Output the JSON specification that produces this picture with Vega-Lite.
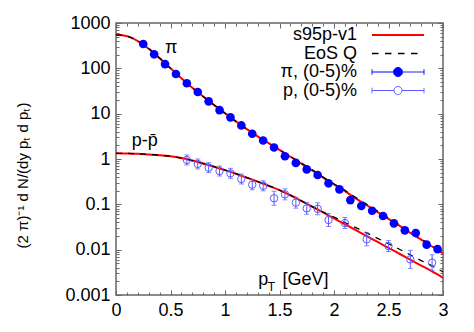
{
  "$schema": "https://vega.github.io/schema/vega-lite/v6.json",
  "width": 327,
  "height": 272,
  "autosize": "none",
  "padding": {"left": 116, "top": 23, "right": 31, "bottom": 37},
  "config": {
    "font": "Liberation Sans",
    "view": {"stroke": "#666666", "strokeWidth": 1.5},
    "axis": {"domain": false, "grid": false, "tickColor": "#666666", "tickWidth": 1, "labelFont": "Liberation Sans", "labelFontSize": 18, "labelColor": "#000000", "titleFont": "Liberation Sans", "titleFontSize": 15, "titleFontWeight": "normal", "titleColor": "#000000"}
  },
  "datasets": {
    "curves": [
      {"pt": 0.0, "v": 549.5, "series": "s95p-v1", "particle": "pi"},
      {"pt": 0.1, "v": 512.9, "series": "s95p-v1", "particle": "pi"},
      {"pt": 0.2, "v": 398.1, "series": "s95p-v1", "particle": "pi"},
      {"pt": 0.3, "v": 269.2, "series": "s95p-v1", "particle": "pi"},
      {"pt": 0.4, "v": 166.0, "series": "s95p-v1", "particle": "pi"},
      {"pt": 0.5, "v": 100.0, "series": "s95p-v1", "particle": "pi"},
      {"pt": 0.6, "v": 60.26, "series": "s95p-v1", "particle": "pi"},
      {"pt": 0.7, "v": 37.15, "series": "s95p-v1", "particle": "pi"},
      {"pt": 0.8, "v": 23.99, "series": "s95p-v1", "particle": "pi"},
      {"pt": 0.9, "v": 15.49, "series": "s95p-v1", "particle": "pi"},
      {"pt": 1.0, "v": 10.23, "series": "s95p-v1", "particle": "pi"},
      {"pt": 1.1, "v": 6.761, "series": "s95p-v1", "particle": "pi"},
      {"pt": 1.2, "v": 4.571, "series": "s95p-v1", "particle": "pi"},
      {"pt": 1.3, "v": 3.162, "series": "s95p-v1", "particle": "pi"},
      {"pt": 1.4, "v": 2.239, "series": "s95p-v1", "particle": "pi"},
      {"pt": 1.5, "v": 1.585, "series": "s95p-v1", "particle": "pi"},
      {"pt": 1.6, "v": 1.122, "series": "s95p-v1", "particle": "pi"},
      {"pt": 1.7, "v": 0.7943, "series": "s95p-v1", "particle": "pi"},
      {"pt": 1.8, "v": 0.5623, "series": "s95p-v1", "particle": "pi"},
      {"pt": 1.9, "v": 0.389, "series": "s95p-v1", "particle": "pi"},
      {"pt": 2.0, "v": 0.2754, "series": "s95p-v1", "particle": "pi"},
      {"pt": 2.1, "v": 0.195, "series": "s95p-v1", "particle": "pi"},
      {"pt": 2.2, "v": 0.1349, "series": "s95p-v1", "particle": "pi"},
      {"pt": 2.3, "v": 0.0955, "series": "s95p-v1", "particle": "pi"},
      {"pt": 2.4, "v": 0.06761, "series": "s95p-v1", "particle": "pi"},
      {"pt": 2.5, "v": 0.04786, "series": "s95p-v1", "particle": "pi"},
      {"pt": 2.6, "v": 0.03388, "series": "s95p-v1", "particle": "pi"},
      {"pt": 2.7, "v": 0.02344, "series": "s95p-v1", "particle": "pi"},
      {"pt": 2.8, "v": 0.0166, "series": "s95p-v1", "particle": "pi"},
      {"pt": 2.9, "v": 0.01175, "series": "s95p-v1", "particle": "pi"},
      {"pt": 3.0, "v": 0.008318, "series": "s95p-v1", "particle": "pi"},
      {"pt": 0.0, "v": 1.334, "series": "s95p-v1", "particle": "p"},
      {"pt": 0.1, "v": 1.327, "series": "s95p-v1", "particle": "p"},
      {"pt": 0.2, "v": 1.303, "series": "s95p-v1", "particle": "p"},
      {"pt": 0.3, "v": 1.259, "series": "s95p-v1", "particle": "p"},
      {"pt": 0.4, "v": 1.216, "series": "s95p-v1", "particle": "p"},
      {"pt": 0.5, "v": 1.148, "series": "s95p-v1", "particle": "p"},
      {"pt": 0.6, "v": 1.047, "series": "s95p-v1", "particle": "p"},
      {"pt": 0.7, "v": 0.9226, "series": "s95p-v1", "particle": "p"},
      {"pt": 0.8, "v": 0.7943, "series": "s95p-v1", "particle": "p"},
      {"pt": 0.9, "v": 0.6761, "series": "s95p-v1", "particle": "p"},
      {"pt": 1.0, "v": 0.5689, "series": "s95p-v1", "particle": "p"},
      {"pt": 1.1, "v": 0.4732, "series": "s95p-v1", "particle": "p"},
      {"pt": 1.2, "v": 0.389, "series": "s95p-v1", "particle": "p"},
      {"pt": 1.3, "v": 0.3162, "series": "s95p-v1", "particle": "p"},
      {"pt": 1.4, "v": 0.257, "series": "s95p-v1", "particle": "p"},
      {"pt": 1.5, "v": 0.2065, "series": "s95p-v1", "particle": "p"},
      {"pt": 1.6, "v": 0.1585, "series": "s95p-v1", "particle": "p"},
      {"pt": 1.7, "v": 0.1189, "series": "s95p-v1", "particle": "p"},
      {"pt": 1.8, "v": 0.08913, "series": "s95p-v1", "particle": "p"},
      {"pt": 1.9, "v": 0.06607, "series": "s95p-v1", "particle": "p"},
      {"pt": 2.0, "v": 0.04898, "series": "s95p-v1", "particle": "p"},
      {"pt": 2.1, "v": 0.03631, "series": "s95p-v1", "particle": "p"},
      {"pt": 2.2, "v": 0.02692, "series": "s95p-v1", "particle": "p"},
      {"pt": 2.3, "v": 0.01995, "series": "s95p-v1", "particle": "p"},
      {"pt": 2.4, "v": 0.01479, "series": "s95p-v1", "particle": "p"},
      {"pt": 2.5, "v": 0.01096, "series": "s95p-v1", "particle": "p"},
      {"pt": 2.6, "v": 0.008128, "series": "s95p-v1", "particle": "p"},
      {"pt": 2.7, "v": 0.006026, "series": "s95p-v1", "particle": "p"},
      {"pt": 2.8, "v": 0.004467, "series": "s95p-v1", "particle": "p"},
      {"pt": 2.9, "v": 0.003311, "series": "s95p-v1", "particle": "p"},
      {"pt": 3.0, "v": 0.002399, "series": "s95p-v1", "particle": "p"},
      {"pt": 0.0, "v": 549.5, "series": "EoS Q", "particle": "pi"},
      {"pt": 0.1, "v": 512.9, "series": "EoS Q", "particle": "pi"},
      {"pt": 0.2, "v": 402.7, "series": "EoS Q", "particle": "pi"},
      {"pt": 0.3, "v": 275.4, "series": "EoS Q", "particle": "pi"},
      {"pt": 0.4, "v": 169.8, "series": "EoS Q", "particle": "pi"},
      {"pt": 0.5, "v": 100.0, "series": "EoS Q", "particle": "pi"},
      {"pt": 0.6, "v": 60.26, "series": "EoS Q", "particle": "pi"},
      {"pt": 0.7, "v": 37.15, "series": "EoS Q", "particle": "pi"},
      {"pt": 0.8, "v": 23.99, "series": "EoS Q", "particle": "pi"},
      {"pt": 0.9, "v": 15.49, "series": "EoS Q", "particle": "pi"},
      {"pt": 1.0, "v": 10.23, "series": "EoS Q", "particle": "pi"},
      {"pt": 1.1, "v": 6.761, "series": "EoS Q", "particle": "pi"},
      {"pt": 1.2, "v": 4.571, "series": "EoS Q", "particle": "pi"},
      {"pt": 1.3, "v": 3.162, "series": "EoS Q", "particle": "pi"},
      {"pt": 1.4, "v": 2.239, "series": "EoS Q", "particle": "pi"},
      {"pt": 1.5, "v": 1.585, "series": "EoS Q", "particle": "pi"},
      {"pt": 1.6, "v": 1.148, "series": "EoS Q", "particle": "pi"},
      {"pt": 1.7, "v": 0.8128, "series": "EoS Q", "particle": "pi"},
      {"pt": 1.8, "v": 0.5754, "series": "EoS Q", "particle": "pi"},
      {"pt": 1.9, "v": 0.3981, "series": "EoS Q", "particle": "pi"},
      {"pt": 2.0, "v": 0.2818, "series": "EoS Q", "particle": "pi"},
      {"pt": 2.1, "v": 0.2042, "series": "EoS Q", "particle": "pi"},
      {"pt": 2.2, "v": 0.1413, "series": "EoS Q", "particle": "pi"},
      {"pt": 2.3, "v": 0.1, "series": "EoS Q", "particle": "pi"},
      {"pt": 2.4, "v": 0.07079, "series": "EoS Q", "particle": "pi"},
      {"pt": 2.5, "v": 0.05012, "series": "EoS Q", "particle": "pi"},
      {"pt": 2.6, "v": 0.03548, "series": "EoS Q", "particle": "pi"},
      {"pt": 2.7, "v": 0.02455, "series": "EoS Q", "particle": "pi"},
      {"pt": 2.8, "v": 0.01738, "series": "EoS Q", "particle": "pi"},
      {"pt": 2.9, "v": 0.0123, "series": "EoS Q", "particle": "pi"},
      {"pt": 3.0, "v": 0.00871, "series": "EoS Q", "particle": "pi"},
      {"pt": 0.0, "v": 1.334, "series": "EoS Q", "particle": "p"},
      {"pt": 0.1, "v": 1.327, "series": "EoS Q", "particle": "p"},
      {"pt": 0.2, "v": 1.303, "series": "EoS Q", "particle": "p"},
      {"pt": 0.3, "v": 1.259, "series": "EoS Q", "particle": "p"},
      {"pt": 0.4, "v": 1.216, "series": "EoS Q", "particle": "p"},
      {"pt": 0.5, "v": 1.148, "series": "EoS Q", "particle": "p"},
      {"pt": 0.6, "v": 1.047, "series": "EoS Q", "particle": "p"},
      {"pt": 0.7, "v": 0.9226, "series": "EoS Q", "particle": "p"},
      {"pt": 0.8, "v": 0.7943, "series": "EoS Q", "particle": "p"},
      {"pt": 0.9, "v": 0.6761, "series": "EoS Q", "particle": "p"},
      {"pt": 1.0, "v": 0.5689, "series": "EoS Q", "particle": "p"},
      {"pt": 1.1, "v": 0.4732, "series": "EoS Q", "particle": "p"},
      {"pt": 1.2, "v": 0.389, "series": "EoS Q", "particle": "p"},
      {"pt": 1.3, "v": 0.3162, "series": "EoS Q", "particle": "p"},
      {"pt": 1.4, "v": 0.257, "series": "EoS Q", "particle": "p"},
      {"pt": 1.5, "v": 0.2065, "series": "EoS Q", "particle": "p"},
      {"pt": 1.6, "v": 0.1585, "series": "EoS Q", "particle": "p"},
      {"pt": 1.7, "v": 0.1189, "series": "EoS Q", "particle": "p"},
      {"pt": 1.8, "v": 0.08913, "series": "EoS Q", "particle": "p"},
      {"pt": 1.9, "v": 0.06761, "series": "EoS Q", "particle": "p"},
      {"pt": 2.0, "v": 0.05248, "series": "EoS Q", "particle": "p"},
      {"pt": 2.1, "v": 0.03981, "series": "EoS Q", "particle": "p"},
      {"pt": 2.2, "v": 0.03055, "series": "EoS Q", "particle": "p"},
      {"pt": 2.3, "v": 0.02344, "series": "EoS Q", "particle": "p"},
      {"pt": 2.4, "v": 0.01778, "series": "EoS Q", "particle": "p"},
      {"pt": 2.5, "v": 0.01349, "series": "EoS Q", "particle": "p"},
      {"pt": 2.6, "v": 0.01023, "series": "EoS Q", "particle": "p"},
      {"pt": 2.7, "v": 0.007674, "series": "EoS Q", "particle": "p"},
      {"pt": 2.8, "v": 0.005754, "series": "EoS Q", "particle": "p"},
      {"pt": 2.9, "v": 0.004365, "series": "EoS Q", "particle": "p"},
      {"pt": 3.0, "v": 0.003236, "series": "EoS Q", "particle": "p"}
    ],
    "pion": [
      {"pt": 0.25, "v": 344, "series": "π, (0-5)%"},
      {"pt": 0.35, "v": 204, "series": "π, (0-5)%"},
      {"pt": 0.45, "v": 124, "series": "π, (0-5)%"},
      {"pt": 0.55, "v": 75, "series": "π, (0-5)%"},
      {"pt": 0.65, "v": 46.8, "series": "π, (0-5)%"},
      {"pt": 0.75, "v": 30, "series": "π, (0-5)%"},
      {"pt": 0.85, "v": 18.7, "series": "π, (0-5)%"},
      {"pt": 0.95, "v": 12, "series": "π, (0-5)%"},
      {"pt": 1.05, "v": 8.3, "series": "π, (0-5)%"},
      {"pt": 1.15, "v": 5.5, "series": "π, (0-5)%"},
      {"pt": 1.25, "v": 3.6, "series": "π, (0-5)%"},
      {"pt": 1.35, "v": 2.56, "series": "π, (0-5)%"},
      {"pt": 1.45, "v": 1.79, "series": "π, (0-5)%"},
      {"pt": 1.55, "v": 1.15, "series": "π, (0-5)%"},
      {"pt": 1.65, "v": 0.82, "series": "π, (0-5)%"},
      {"pt": 1.75, "v": 0.59, "series": "π, (0-5)%"},
      {"pt": 1.85, "v": 0.443, "series": "π, (0-5)%"},
      {"pt": 1.95, "v": 0.291, "series": "π, (0-5)%"},
      {"pt": 2.05, "v": 0.214, "series": "π, (0-5)%"},
      {"pt": 2.15, "v": 0.124, "series": "π, (0-5)%"},
      {"pt": 2.25, "v": 0.0918, "series": "π, (0-5)%"},
      {"pt": 2.35, "v": 0.0723, "series": "π, (0-5)%"},
      {"pt": 2.45, "v": 0.0552, "series": "π, (0-5)%"},
      {"pt": 2.55, "v": 0.0381, "series": "π, (0-5)%"},
      {"pt": 2.65, "v": 0.0267, "series": "π, (0-5)%"},
      {"pt": 2.75, "v": 0.0233, "series": "π, (0-5)%"},
      {"pt": 2.85, "v": 0.0129, "series": "π, (0-5)%"},
      {"pt": 2.95, "v": 0.0103, "series": "π, (0-5)%"}
    ],
    "proton": [
      {"pt": 0.65, "v": 0.95, "lo": 0.737, "hi": 1.225, "series": "p, (0-5)%"},
      {"pt": 0.75, "v": 0.776, "lo": 0.602, "hi": 1.0, "series": "p, (0-5)%"},
      {"pt": 0.85, "v": 0.643, "lo": 0.499, "hi": 0.829, "series": "p, (0-5)%"},
      {"pt": 0.95, "v": 0.543, "lo": 0.421, "hi": 0.7, "series": "p, (0-5)%"},
      {"pt": 1.05, "v": 0.483, "lo": 0.375, "hi": 0.623, "series": "p, (0-5)%"},
      {"pt": 1.15, "v": 0.362, "lo": 0.281, "hi": 0.467, "series": "p, (0-5)%"},
      {"pt": 1.25, "v": 0.271, "lo": 0.21, "hi": 0.349, "series": "p, (0-5)%"},
      {"pt": 1.35, "v": 0.257, "lo": 0.199, "hi": 0.331, "series": "p, (0-5)%"},
      {"pt": 1.45, "v": 0.136, "lo": 0.0953, "hi": 0.194, "series": "p, (0-5)%"},
      {"pt": 1.55, "v": 0.166, "lo": 0.1256, "hi": 0.2195, "series": "p, (0-5)%"},
      {"pt": 1.65, "v": 0.109, "lo": 0.0824, "hi": 0.144, "series": "p, (0-5)%"},
      {"pt": 1.75, "v": 0.0817, "lo": 0.0603, "hi": 0.1108, "series": "p, (0-5)%"},
      {"pt": 1.85, "v": 0.0796, "lo": 0.0587, "hi": 0.1079, "series": "p, (0-5)%"},
      {"pt": 1.95, "v": 0.0451, "lo": 0.0324, "hi": 0.0627, "series": "p, (0-5)%"},
      {"pt": 2.1, "v": 0.0387, "lo": 0.0293, "hi": 0.0512, "series": "p, (0-5)%"},
      {"pt": 2.3, "v": 0.0169, "lo": 0.01215, "hi": 0.0235, "series": "p, (0-5)%"},
      {"pt": 2.5, "v": 0.012, "lo": 0.00908, "hi": 0.01586, "series": "p, (0-5)%"},
      {"pt": 2.7, "v": 0.0061, "lo": 0.00386, "hi": 0.00964, "series": "p, (0-5)%"},
      {"pt": 2.9, "v": 0.00515, "lo": 0.00343, "hi": 0.00774, "series": "p, (0-5)%"}
    ],
    "notes": [
      {"text": "π", "pt": 0.45, "v": 214.8},
      {"text": "p-p̄", "pt": 0.144, "v": 1.935},
      {"text": "p", "pt": 1.306, "v": 0.001702},
      {"text": "[GeV]", "pt": 1.528, "v": 0.001702}
    ],
    "subs": [
      {"text": "T", "pt": 1.392, "v": 0.001225}
    ]
  },
  "resolve": {"axis": {"x": "independent", "y": "independent"}},
  "layer": [
    {
      "data": {"name": "curves"},
      "transform": [{"filter": "datum.series === 's95p-v1'"}],
      "mark": {"type": "line", "strokeWidth": 2, "interpolate": "monotone"},
      "encoding": {
        "x": {"field": "pt", "type": "quantitative", "scale": {"domain": [0, 3], "nice": false, "zero": false},
              "axis": {"orient": "bottom", "values": [0, 0.5, 1, 1.5, 2, 2.5, 3], "format": "~g", "tickSize": -5, "labelPadding": 11, "title": null, "labelFlush": false}},
        "y": {"field": "v", "type": "quantitative", "scale": {"type": "log", "domain": [0.001, 1000], "nice": false},
              "axis": {"orient": "left", "values": [0.001, 0.01, 0.1, 1, 10, 100, 1000], "format": "~g", "tickSize": -5, "labelPadding": 11, "labelFlush": false, "title": "(2 π)⁻¹ d N/(dy pₜ d pₜ)", "titlePadding": 34, "titleY": 152}},
        "detail": {"field": "particle"},
        "color": {"field": "series", "type": "nominal",
                  "scale": {"domain": ["s95p-v1", "EoS Q", "π, (0-5)%", "p, (0-5)%"], "range": ["#ff0000", "#000000", "#0000ff", "#5a5aff"]},
                  "legend": {
                    "orient": "none", "legendX": 273, "legendY": 3, "padding": 0, "title": null,
                    "labelFontSize": 18, "labelFont": "Liberation Sans", "labelColor": "#000000", "labelLimit": 0,
                    "symbolSize": 100, "rowPadding": 0.5,
                    "encode": {
                      "symbols": {"update": {
                        "shape": {"signal": "datum.value === 'π, (0-5)%' ? 'M-5.2,0L-0.9,0M0.9,0L5.2,0M-5.2,-0.55L-5.2,0.55M5.2,-0.55L5.2,0.55M-0.9,0A0.9,0.9,0,1,1,0.9,0A0.9,0.9,0,1,1,-0.9,0Z' : datum.value === 'p, (0-5)%' ? 'M-5.2,0L-0.8,0M0.8,0L5.2,0M-5.2,-0.55L-5.2,0.55M5.2,-0.55L5.2,0.55M-0.8,0A0.8,0.8,0,1,1,0.8,0A0.8,0.8,0,1,1,-0.8,0Z' : 'M-5.2,0L5.2,0'"},
                        "stroke": {"signal": "datum.value === 's95p-v1' ? '#ff0000' : datum.value === 'EoS Q' ? '#000000' : '#5a5aff'"},
                        "fill": {"signal": "datum.value === 'π, (0-5)%' ? '#0000ff' : '#ffffff'"},
                        "fillOpacity": {"signal": "datum.value === 'p, (0-5)%' ? 0 : 1"},
                        "strokeWidth": {"signal": "datum.value === 's95p-v1' ? 2 : datum.value === 'EoS Q' ? 1.3 : 1"},
                        "strokeDash": {"signal": "datum.value === 'EoS Q' ? [6.5, 6.5] : [1, 0]"},
                        "opacity": {"value": 1}
                      }},
                      "labels": {"update": {"x": {"value": -32}, "align": {"value": "right"}}}
                    }
                  }}
      }
    },
    {
      "data": {"name": "curves"},
      "transform": [{"filter": "datum.series === 'EoS Q'"}],
      "mark": {"type": "line", "strokeWidth": 1.3, "strokeDash": [6, 6], "interpolate": "monotone"},
      "encoding": {
        "x": {"field": "pt", "type": "quantitative",
              "axis": {"orient": "bottom", "values": [0.1, 0.2, 0.3, 0.4, 0.6, 0.7, 0.8, 0.9, 1.1, 1.2, 1.3, 1.4, 1.6, 1.7, 1.8, 1.9, 2.1, 2.2, 2.3, 2.4, 2.6, 2.7, 2.8, 2.9], "labels": false, "tickSize": -3, "title": null}},
        "y": {"field": "v", "type": "quantitative",
              "axis": {"orient": "left", "values": [0.002, 0.003, 0.004, 0.005, 0.006, 0.007, 0.008, 0.009, 0.02, 0.03, 0.04, 0.05, 0.06, 0.07, 0.08, 0.09, 0.2, 0.3, 0.4, 0.5, 0.6, 0.7, 0.8, 0.9, 2, 3, 4, 5, 6, 7, 8, 9, 20, 30, 40, 50, 60, 70, 80, 90, 200, 300, 400, 500, 600, 700, 800, 900], "labels": false, "tickSize": -3, "title": null}},
        "detail": {"field": "particle"},
        "color": {"field": "series", "type": "nominal"}
      }
    },
    {
      "data": {"name": "proton"},
      "mark": {"type": "rule", "strokeWidth": 1},
      "encoding": {
        "x": {"field": "pt", "type": "quantitative",
              "axis": {"orient": "top", "values": [0, 0.5, 1, 1.5, 2, 2.5, 3], "labels": false, "tickSize": -5, "title": null}},
        "y": {"field": "lo", "type": "quantitative",
              "axis": {"orient": "right", "values": [0.001, 0.01, 0.1, 1, 10, 100, 1000], "labels": false, "tickSize": -5, "title": null}},
        "y2": {"field": "hi"},
        "color": {"field": "series", "type": "nominal"}
      }
    },
    {
      "data": {"name": "proton"},
      "mark": {"type": "tick", "orient": "horizontal", "size": 5, "thickness": 1},
      "encoding": {
        "x": {"field": "pt", "type": "quantitative",
              "axis": {"orient": "top", "values": [0.1, 0.2, 0.3, 0.4, 0.6, 0.7, 0.8, 0.9, 1.1, 1.2, 1.3, 1.4, 1.6, 1.7, 1.8, 1.9, 2.1, 2.2, 2.3, 2.4, 2.6, 2.7, 2.8, 2.9], "labels": false, "tickSize": -3, "title": null}},
        "y": {"field": "lo", "type": "quantitative",
              "axis": {"orient": "right", "values": [0.002, 0.003, 0.004, 0.005, 0.006, 0.007, 0.008, 0.009, 0.02, 0.03, 0.04, 0.05, 0.06, 0.07, 0.08, 0.09, 0.2, 0.3, 0.4, 0.5, 0.6, 0.7, 0.8, 0.9, 2, 3, 4, 5, 6, 7, 8, 9, 20, 30, 40, 50, 60, 70, 80, 90, 200, 300, 400, 500, 600, 700, 800, 900], "labels": false, "tickSize": -3, "title": null}},
        "color": {"field": "series", "type": "nominal"}
      }
    },
    {
      "data": {"name": "proton"},
      "mark": {"type": "tick", "orient": "horizontal", "size": 5, "thickness": 1},
      "encoding": {
        "x": {"field": "pt", "type": "quantitative", "axis": null},
        "y": {"field": "hi", "type": "quantitative", "axis": null},
        "color": {"field": "series", "type": "nominal"}
      }
    },
    {
      "data": {"name": "proton"},
      "mark": {"type": "point", "shape": "circle", "filled": false, "size": 55, "strokeWidth": 1, "opacity": 1},
      "encoding": {
        "x": {"field": "pt", "type": "quantitative", "axis": null},
        "y": {"field": "v", "type": "quantitative", "axis": null},
        "color": {"field": "series", "type": "nominal"}
      }
    },
    {
      "data": {"name": "pion"},
      "mark": {"type": "point", "shape": "circle", "filled": true, "size": 75, "opacity": 1},
      "encoding": {
        "x": {"field": "pt", "type": "quantitative", "axis": null},
        "y": {"field": "v", "type": "quantitative", "axis": null},
        "color": {"field": "series", "type": "nominal"}
      }
    },
    {
      "data": {"name": "notes"},
      "mark": {"type": "text", "fontSize": 18, "font": "Liberation Sans", "align": "left", "baseline": "alphabetic", "color": "#000000"},
      "encoding": {
        "x": {"field": "pt", "type": "quantitative", "axis": null},
        "y": {"field": "v", "type": "quantitative", "axis": null},
        "text": {"field": "text"}
      }
    },
    {
      "data": {"name": "subs"},
      "mark": {"type": "text", "fontSize": 12, "font": "Liberation Sans", "align": "left", "baseline": "alphabetic", "color": "#000000"},
      "encoding": {
        "x": {"field": "pt", "type": "quantitative", "axis": null},
        "y": {"field": "v", "type": "quantitative", "axis": null},
        "text": {"field": "text"}
      }
    }
  ]
}
